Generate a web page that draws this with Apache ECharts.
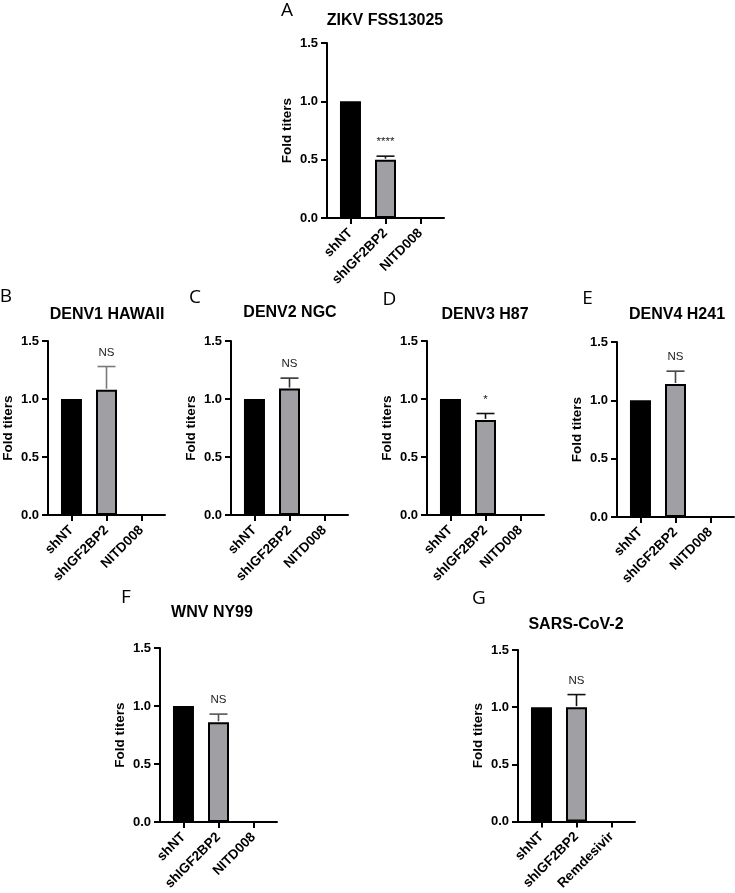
<!DOCTYPE html>
<html><head><meta charset="utf-8">
<script src="https://cdn.jsdelivr.net/npm/echarts@6/dist/echarts.min.js"></script>
<style>html,body{margin:0;padding:0;background:#fff}#c{width:735px;height:893px}</style>
</head><body><div id="c"></div>
<script>
// ---- data ----
const panelLetters = ['A', 'B', 'C', 'D', 'E', 'F', 'G'];
const panelTitles = ['ZIKV FSS13025', 'DENV1 HAWAII', 'DENV2 NGC', 'DENV3 H87', 'DENV4 H241', 'WNV NY99', 'SARS-CoV-2'];
const flaviCategories = ['shNT', 'shIGF2BP2', 'NITD008'];
const sarsCategories = ['shNT', 'shIGF2BP2', 'Remdesivir'];
const yTickValues = [0, 0.5, 1.0, 1.5];
const yAxisTitle = 'Fold titers';

const zikvMeans = [1.00, 0.50, 0];
const zikvErrors = [0, 0.03, 0];
const denv1Means = [1.00, 1.08, 0];
const denv1Errors = [0, 0.20, 0];
const denv2Means = [1.00, 1.09, 0];
const denv2Errors = [0, 0.09, 0];
const denv3Means = [1.00, 0.82, 0];
const denv3Errors = [0, 0.055, 0];
const denv4Means = [1.00, 1.14, 0];
const denv4Errors = [0, 0.11, 0];
const wnvMeans = [1.00, 0.86, 0];
const wnvErrors = [0, 0.07, 0];
const sarsMeans = [1.00, 1.00, 0];
const sarsErrors = [0, 0.11, 0];
const significance = ['****', 'NS', 'NS', '*', 'NS', 'NS', 'NS'];

const panelMeans = [zikvMeans, denv1Means, denv2Means, denv3Means, denv4Means, wnvMeans, sarsMeans];
const panelErrors = [zikvErrors, denv1Errors, denv2Errors, denv3Errors, denv4Errors, wnvErrors, sarsErrors];
const panelCategories = [flaviCategories, flaviCategories, flaviCategories, flaviCategories, flaviCategories, flaviCategories, sarsCategories];

// ---- layout / style ----
const layout = [
  { left: 327, top: 43, h: 175, letter: [287, 11], title: [385, 20.5], err: '#111' },
  { left: 48, top: 341, h: 174, letter: [6, 296.5], title: [107, 315], err: '#7a7a7a' },
  { left: 231, top: 341, h: 174, letter: [195, 298], title: [290, 313], err: '#333' },
  { left: 427, top: 341, h: 174, letter: [389.5, 300], title: [485, 315], err: '#111' },
  { left: 617, top: 342, h: 175, letter: [587.5, 299], title: [677, 315], err: '#444' },
  { left: 160, top: 648, h: 176, letter: [126, 598], title: [212, 613], err: '#555' },
  { left: 518, top: 650, h: 174, letter: [479, 599], title: [576, 625], err: '#111' }
];
const GRID_W = 117;
const FONT = '"Liberation Sans", Arial, sans-serif';
const barColors = ['#000000', '#a0a0a4', '#ffffff'];

const grids = [], xAxes = [], yAxes = [], series = [], titles = [];

layout.forEach((L, i) => {
  grids.push({ left: L.left, top: L.top, width: GRID_W, height: L.h, containLabel: false });
  const cats = panelCategories[i];
  xAxes.push({
    type: 'value', gridIndex: i, min: -0.67, max: 2.67,
    axisLine: { show: true, onZero: false, lineStyle: { color: '#000', width: 2 } },
    axisTick: { show: true, customValues: [0, 1, 2], length: 6, lineStyle: { color: '#000', width: 2 } },
    axisLabel: {
      customValues: [0, 1, 2], rotate: 45, margin: 13,
      formatter: v => cats[Math.round(v)],
      color: '#000', fontFamily: FONT, fontWeight: 'bold', fontSize: 13.5
    },
    splitLine: { show: false }
  });
  yAxes.push({
    type: 'value', gridIndex: i, min: yTickValues[0], max: yTickValues[yTickValues.length - 1], interval: 0.5,
    name: yAxisTitle, nameLocation: 'middle', nameRotate: 90, nameGap: 33,
    nameTextStyle: { color: '#000', fontFamily: FONT, fontWeight: 'bold', fontSize: 13.5 },
    axisLine: { show: true, onZero: false, lineStyle: { color: '#000', width: 2 } },
    axisTick: { show: true, length: 6, lineStyle: { color: '#000', width: 2 } },
    axisLabel: {
      margin: 9, formatter: v => v.toFixed(1),
      color: '#000', fontFamily: FONT, fontWeight: 'bold', fontSize: 13
    },
    splitLine: { show: false }
  });
  const means = panelMeans[i];
  series.push({
    type: 'bar', xAxisIndex: i, yAxisIndex: i, barWidth: 21,
    data: means.map((m, k) => ({
      value: [k, m],
      itemStyle: { color: barColors[k], borderColor: '#000', borderWidth: m > 0 ? 2 : 0, opacity: m > 0 ? 1 : 0 }
    })),
    animation: false, silent: true
  });
  const errs = panelErrors[i];
  const errData = [];
  means.forEach((m, k) => { if (errs[k] > 0) errData.push([k, m, errs[k]]); });
  const sig = significance[i];
  const errColor = L.err;
  series.push({
    type: 'custom', xAxisIndex: i, yAxisIndex: i, z: 5,
    data: errData, animation: false, silent: true,
    renderItem: (params, api) => {
      const x = api.value(0), m = api.value(1), e = api.value(2);
      const p0 = api.coord([x, m]);
      const p1 = api.coord([x, m + e]);
      return {
        type: 'group', children: [
          { type: 'line', shape: { x1: p0[0], y1: p0[1] - 1, x2: p1[0], y2: p1[1] }, style: { stroke: errColor, lineWidth: 1.6 } },
          { type: 'line', shape: { x1: p1[0] - 9, y1: p1[1], x2: p1[0] + 9, y2: p1[1] }, style: { stroke: errColor, lineWidth: 1.6 } },
          { type: 'text', x: p1[0], y: p1[1] - 8, style: { text: sig, fill: '#222', font: '11.5px ' + FONT, textAlign: 'center', textVerticalAlign: 'bottom' } }
        ]
      };
    }
  });
  titles.push({
    text: panelTitles[i], left: L.title[0], top: L.title[1], padding: 0,
    textAlign: 'center', textVerticalAlign: 'middle',
    textStyle: { color: '#000', fontFamily: FONT, fontWeight: 'bold', fontSize: 16 }
  });
  titles.push({
    text: panelLetters[i], left: L.letter[0], top: L.letter[1], padding: 0,
    textAlign: 'center', textVerticalAlign: 'middle',
    textStyle: { color: '#000', fontFamily: '"Open Sans", sans-serif', fontWeight: 'normal', fontSize: 19 }
  });
});

const chart = echarts.init(document.getElementById('c'), null, { renderer: 'canvas' });
chart.setOption({
  backgroundColor: '#fff', animation: false,
  title: titles, grid: grids, xAxis: xAxes, yAxis: yAxes, series: series
});
</script></body></html>
